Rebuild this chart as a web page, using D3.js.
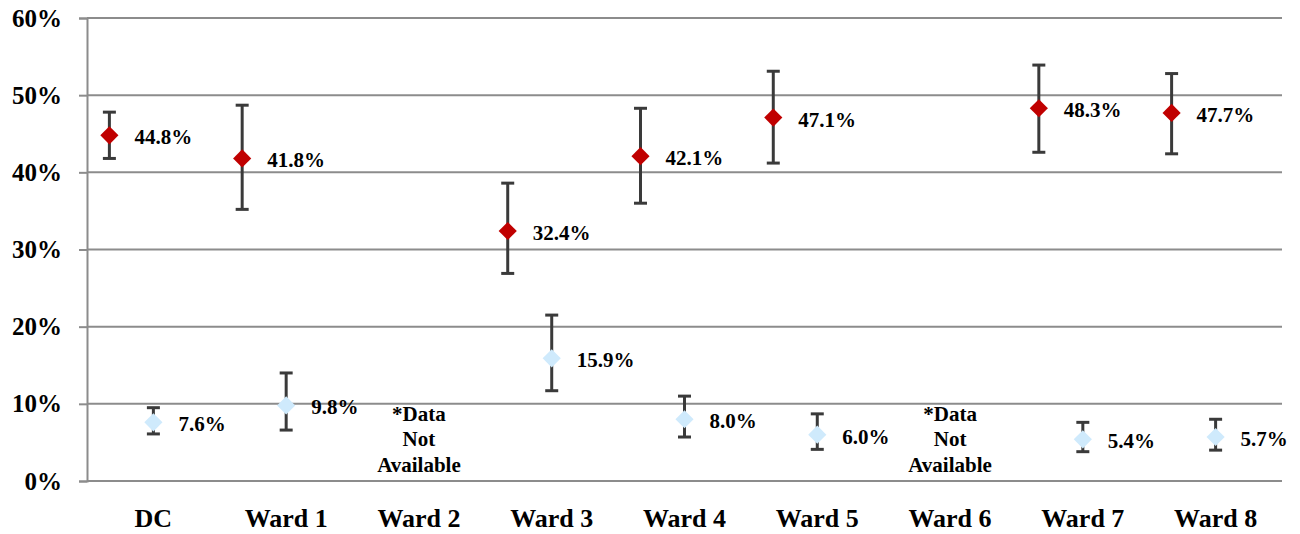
<!DOCTYPE html>
<html>
<head>
<meta charset="utf-8">
<script src="https://cdn.jsdelivr.net/npm/d3@7"></script>
<style>
  body { margin: 0; background: #fff; }
</style>
</head>
<body>
<svg id="chart" width="1300" height="534"></svg>
<script>
"use strict";

// categories and values
const categories = ["DC", "Ward 1", "Ward 2", "Ward 3", "Ward 4", "Ward 5", "Ward 6", "Ward 7", "Ward 8"];

const redValues = [44.8, 41.8, null, 32.4, 42.1, 47.1, null, 48.3, 47.7];
const redLow    = [41.8, 35.2, null, 26.9, 36.0, 41.2, null, 42.6, 42.4];
const redHigh   = [47.8, 48.7, null, 38.6, 48.3, 53.1, null, 53.9, 52.8];

const blueValues = [7.6, 9.8, null, 15.9, 8.0, 6.0, null, 5.4, 5.7];
const blueLow    = [6.1, 6.6, null, 11.7, 5.7, 4.1, null, 3.8, 4.0];
const blueHigh   = [9.5, 14.0, null, 21.5, 11.0, 8.7, null, 7.6, 8.0];

const yTicks = [0, 10, 20, 30, 40, 50, 60];
const missingNote = ["*Data", "Not", "Available"];

const FONT = "'Liberation Serif', 'Times New Roman', serif";

// layout
const svg = d3.select("#chart");
const margin = {top: 18, right: 18, bottom: 53, left: 87};
const width = 1300 - margin.left - margin.right;
const height = 534 - margin.top - margin.bottom;

const g = svg.append("g").attr("transform", `translate(${margin.left},${margin.top})`);

const x = d3.scaleBand().domain(categories).range([0, width]).padding(0);
const y = d3.scaleLinear().domain([0, 60]).range([height, 0]);
// red series sits left of the category centre, blue on it
const shift = d3.scalePoint().domain(["red", "blue"]).range([-44, 0]);

// gridlines
g.selectAll(".grid")
  .data(yTicks)
  .enter().append("line")
  .attr("class", "grid")
  .attr("x1", 0).attr("x2", width)
  .attr("y1", d => y(d)).attr("y2", d => y(d))
  .attr("stroke", "#8c8c8c")
  .attr("stroke-width", 2);

// y axis
const yAxis = g.append("g")
  .call(d3.axisLeft(y).tickValues(yTicks).tickSize(8).tickPadding(17).tickFormat(d => d + "%"));
yAxis.attr("font-family", null).attr("font-size", null);
yAxis.select(".domain").attr("stroke", "#8c8c8c").attr("stroke-width", 2);
yAxis.selectAll(".tick line").attr("stroke", "#8c8c8c").attr("stroke-width", 2);
yAxis.selectAll(".tick text")
  .style("font-family", FONT)
  .style("font-weight", "bold")
  .style("font-size", "25px")
  .attr("fill", "#000");

// category labels
g.selectAll(".cat")
  .data(categories)
  .enter().append("text")
  .attr("class", "cat")
  .attr("x", d => x(d) + x.bandwidth() / 2)
  .attr("y", height + 46)
  .attr("text-anchor", "middle")
  .style("font-family", FONT)
  .style("font-weight", "bold")
  .style("font-size", "26px")
  .text(d => d);

function drawSeries(key, values, low, high, colour) {
  const rows = categories.map((c, i) => ({c, v: values[i], lo: low[i], hi: high[i]}))
    .filter(d => d.v !== null);
  const cx = d => x(d.c) + x.bandwidth() / 2 + shift(key);

  const eb = g.append("g").attr("stroke", "#3a3a3a").attr("stroke-width", 3);
  eb.selectAll(".stem").data(rows).enter().append("line")
    .attr("x1", cx).attr("x2", cx)
    .attr("y1", d => y(d.lo)).attr("y2", d => y(d.hi));
  eb.selectAll(".capTop").data(rows).enter().append("line")
    .attr("x1", d => cx(d) - 6.5).attr("x2", d => cx(d) + 6.5)
    .attr("y1", d => y(d.hi)).attr("y2", d => y(d.hi));
  eb.selectAll(".capBot").data(rows).enter().append("line")
    .attr("x1", d => cx(d) - 6.5).attr("x2", d => cx(d) + 6.5)
    .attr("y1", d => y(d.lo)).attr("y2", d => y(d.lo));

  const diamond = d3.symbol().type(d3.symbolSquare).size(165);
  g.append("g").selectAll("path").data(rows).enter().append("path")
    .attr("d", diamond)
    .attr("transform", d => `translate(${cx(d)},${y(d.v)}) rotate(45)`)
    .attr("fill", colour);

  g.append("g").selectAll("text").data(rows).enter().append("text")
    .attr("x", d => cx(d) + 25)
    .attr("y", d => y(d.v) + 2)
    .attr("dominant-baseline", "central")
    .style("font-family", FONT)
    .style("font-weight", "bold")
    .style("font-size", "21px")
    .text(d => d.v.toFixed(1) + "%");
}

drawSeries("red", redValues, redLow, redHigh, "#c00000");
drawSeries("blue", blueValues, blueLow, blueHigh, "#cfeafc");

// note for wards with no data
categories.forEach((c, i) => {
  if (redValues[i] === null && blueValues[i] === null) {
    const t = g.append("text")
      .attr("x", x(c) + x.bandwidth() / 2)
      .attr("y", y(10) + 17)
      .attr("text-anchor", "middle")
      .style("font-family", FONT)
      .style("font-weight", "bold")
      .style("font-size", "21px");
    missingNote.forEach((line, k) => {
      t.append("tspan")
        .attr("x", x(c) + x.bandwidth() / 2)
        .attr("dy", k === 0 ? 0 : 25.5)
        .text(line);
    });
  }
});
</script>
</body>
</html>
